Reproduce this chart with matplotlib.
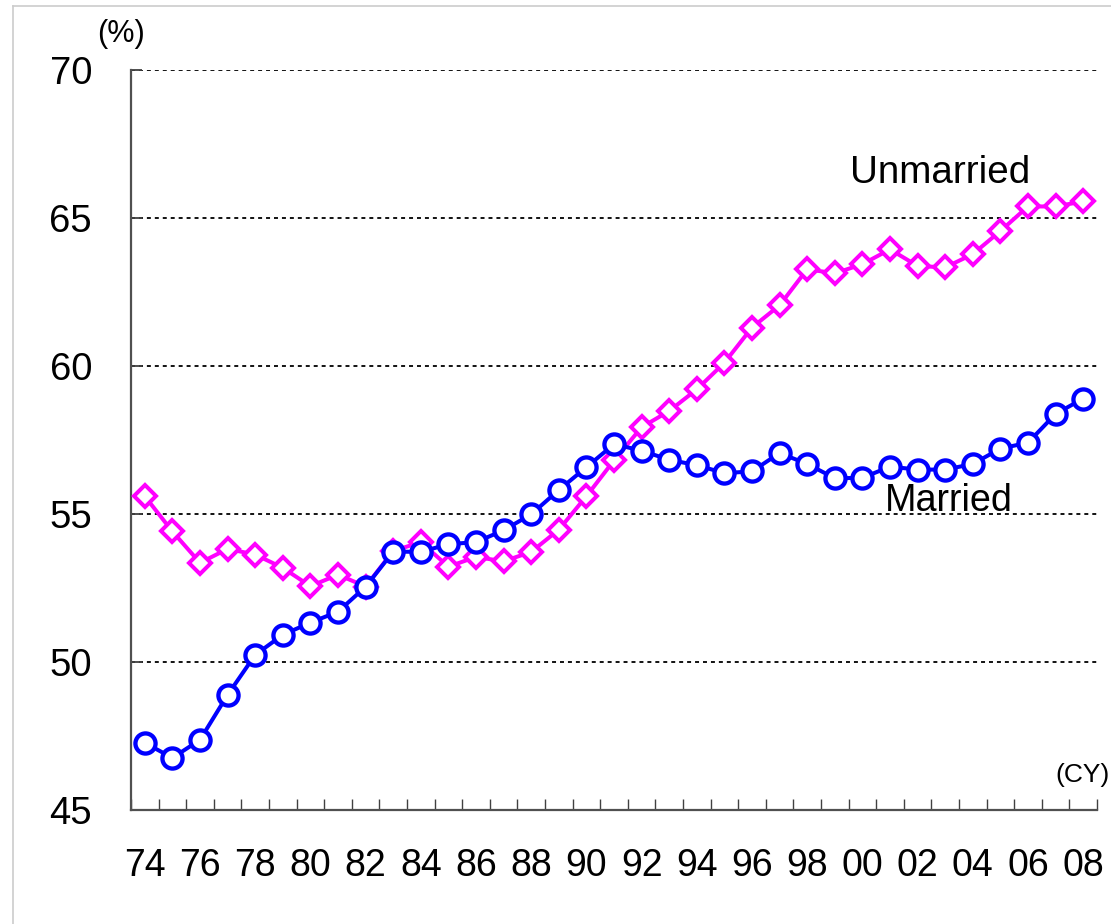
import matplotlib
matplotlib.use("Agg")
import matplotlib.pyplot as plt
from matplotlib import font_manager
import numpy as np

years = list(range(1974, 2009))
married = [47.27, 46.76, 47.37, 48.89, 50.24, 50.92, 51.33, 51.70, 52.54, 53.73,
           53.72, 53.98, 54.05, 54.45, 54.99, 55.81, 56.58, 57.36, 57.14, 56.83,
           56.65, 56.38, 56.44, 57.06, 56.69, 56.21, 56.22, 56.60, 56.50, 56.50,
           56.69, 57.21, 57.41, 58.38, 58.90]
unmarried = [55.60, 54.41, 53.35, 53.82, 53.63, 53.18, 52.56, 52.95, 52.55, 53.75,
             54.05, 53.22, 53.55, 53.40, 53.72, 54.47, 55.60, 56.81, 57.93, 58.48,
             59.21, 60.11, 61.30, 62.05, 63.27, 63.13, 63.44, 63.94, 63.38, 63.33,
             63.78, 64.56, 65.39, 65.39, 65.56]
x_labels = ["74", "76", "78", "80", "82", "84", "86", "88", "90", "92", "94",
            "96", "98", "00", "02", "04", "06", "08"]
y_ticks = [45, 50, 55, 60, 65, 70]

names = {f.name for f in font_manager.fontManager.ttflist}
base = "Liberation Sans" if "Liberation Sans" in names else "DejaVu Sans"
plt.rcParams["font.family"] = [base, "DejaVu Sans"]

W, H = 1111, 924
fig = plt.figure(figsize=(W / 100, H / 100), dpi=100)
ax = fig.add_axes([131 / W, 1 - 810 / H, (1097 - 131) / W, (810 - 70) / H])

xs = np.arange(len(years))
ax.plot(xs, unmarried, color="#FF00FF", lw=2.9, marker="D", ms=10.8, mew=2.9,
        mfc="white", mec="#FF00FF", zorder=3, clip_on=False)
ax.plot(xs, married, color="#0000FF", lw=2.9, marker="o", ms=14.5, mew=3.1,
        mfc="white", mec="#0000FF", zorder=4, clip_on=False)

ax.set_xlim(-0.5, len(years) - 0.5)
ax.set_ylim(45, 70)

# gridlines
for v in y_ticks[1:]:
    ax.axhline(v, color="black", lw=1.3, ls=(0, (2.2, 2.2)), zorder=1)

# y axis
ax.set_yticks(y_ticks)
ax.set_yticklabels([str(v) for v in y_ticks], fontsize=27.5)
ax.tick_params(axis="y", direction="in", length=8, width=1.3, color="#404040", pad=28)

# x axis: boundary ticks, labels at even years
ax.set_xticks(np.arange(-0.5, len(years), 1.0))
ax.set_xticklabels([])
ax.tick_params(axis="x", which="major", direction="in", length=8, width=1.0, color="#404040")
lab_pos = [years.index(1900 + int(l) if int(l) > 50 else 2000 + int(l)) for l in x_labels]
ax.set_xticks(lab_pos, minor=True)
ax.set_xticklabels(x_labels, minor=True, fontsize=27)
ax.tick_params(axis="x", which="minor", length=0, pad=27)

for s in ["top", "right"]:
    ax.spines[s].set_visible(False)
for s in ["left", "bottom"]:
    ax.spines[s].set_color("#505050")
    ax.spines[s].set_linewidth(1.6)

# annotations
fig.text(850 / W, 1 - 183 / H, "Unmarried", fontsize=27.8, va="baseline", ha="left")
fig.text(885 / W, 1 - 511 / H, "Married", fontsize=27.2, va="baseline", ha="left")
fig.text(97 / W, 1 - 42 / H, "(%)", fontsize=22, va="baseline", ha="left")
fig.text(1055 / W, 1 - 782 / H, "(CY)", fontsize=19, va="baseline", ha="left")

# frame border
fig.add_artist(plt.Line2D([13 / W, 13 / W], [0, 1 - 6 / H], transform=fig.transFigure,
                          color="#CCCCCC", lw=1.2))
fig.add_artist(plt.Line2D([13 / W, 1], [1 - 6 / H, 1 - 6 / H], transform=fig.transFigure,
                          color="#CCCCCC", lw=1.2))

fig.savefig("out.png", dpi=100)
